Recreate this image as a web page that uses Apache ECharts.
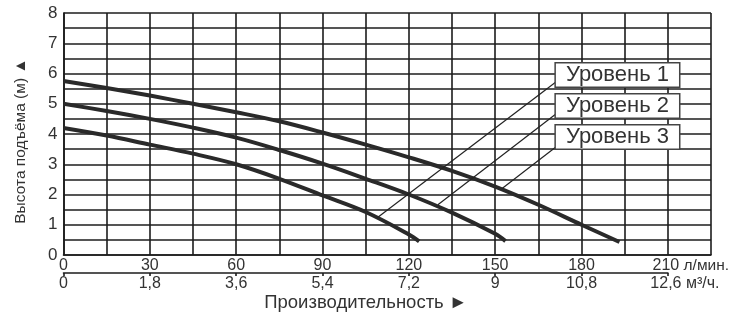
<!DOCTYPE html>
<html>
<head>
<meta charset="utf-8">
<script src="https://cdn.jsdelivr.net/npm/echarts@6/dist/echarts.min.js"></script>
<style>html,body{margin:0;padding:0;background:#fff}#c{width:747px;height:314px}</style>
</head>
<body>
<div id="c"></div>
<script>
// Flow axis (l/min) tick labels, every 30 l/min
const lpmLabels = ['0', '30', '60', '90', '120', '150', '180', '210'];
// Flow axis (m³/h) tick labels
const m3hLabels = ['0', '1,8', '3,6', '5,4', '7,2', '9', '10,8', '12,6'];
// Head axis labels
const headLabels = ['0', '1', '2', '3', '4', '5', '6', '7', '8'];

// Curves: [flow l/min, head m]
const level1 = [[0, 4.2], [15, 3.95], [30, 3.65], [45, 3.35], [60, 3.0], [75, 2.52], [90, 1.97], [105, 1.42], [120, 0.68], [123.6, 0.45]];
const level2 = [[0, 5.0], [15, 4.76], [30, 4.5], [45, 4.21], [60, 3.88], [75, 3.47], [90, 3.02], [105, 2.52], [120, 2.0], [135, 1.4], [150, 0.7], [153.6, 0.46]];
const level3 = [[0, 5.75], [15, 5.52], [30, 5.27], [45, 5.0], [60, 4.72], [75, 4.42], [90, 4.05], [105, 3.65], [120, 3.23], [135, 2.78], [150, 2.26], [165, 1.66], [180, 1.0], [193.2, 0.43]];

// Leader lines from curve to label box: [start, end]
const leader1 = [[108.9, 1.22], [171.1, 5.72]];
const leader2 = [[130.1, 1.66], [171.1, 4.66]];
const leader3 = [[152.4, 2.2], [171.1, 3.57]];
const levelNames = ['Уровень 1', 'Уровень 2', 'Уровень 3'];

const FONT = "'Liberation Sans', Arial, sans-serif";
const INK = '#1c1c1c';
const gridStyle = { color: INK, width: 1.6 };

function curve(data) {
  return {
    type: 'line', data: data, xAxisIndex: 0, yAxisIndex: 0,
    smooth: 0.35, symbol: 'none', silent: true,
    lineStyle: { color: '#2a2a2a', width: 4, cap: 'butt' }, z: 5
  };
}
function leader(data, name, dy) {
  return {
    type: 'line', name: name, data: data, xAxisIndex: 0, yAxisIndex: 0,
    symbol: 'none', silent: true,
    lineStyle: { color: '#222', width: 1.2 }, z: 6,
    endLabel: {
      show: true, formatter: name, distance: 0, offset: [0, dy],
      fontFamily: FONT, fontSize: 22, color: '#333',
      backgroundColor: '#fff', borderColor: '#444', borderWidth: 1.5,
      padding: [1, 10, 0, 10], lineHeight: 22
    }
  };
}

const chart = echarts.init(document.getElementById('c'), null, { renderer: 'canvas' });
chart.setOption({
  animation: false,
  backgroundColor: '#fff',
  grid: [
    { left: 63.5, right: 36, top: 13, bottom: 59 },
    { left: 63.5, width: 604.4, top: 272, height: 1 }
  ],
  graphic: [{
    type: 'text', x: 21, y: 141, rotation: Math.PI / 2,
    style: {
      text: 'Высота подъёма (м) ▲', align: 'center', verticalAlign: 'middle',
      fontFamily: FONT, fontSize: 15.5, fill: '#333'
    }
  }],
  xAxis: [
    {
      type: 'value', gridIndex: 0, min: 0, max: 225, interval: 15,
      axisLine: { show: true, lineStyle: gridStyle },
      axisTick: { show: false },
      splitLine: { show: true, lineStyle: gridStyle },
      axisLabel: {
        margin: 3, fontFamily: FONT, fontSize: 16, color: '#333',
        formatter: function (v, i) {
          if (i % 2 !== 0) return '';
          const t = lpmLabels[i / 2];
          if (t === undefined) return '';
          if (i / 2 === lpmLabels.length - 1) return '{a|' + t + '}{u| л/мин.}';
          return t;
        },
        rich: {
          a: { fontFamily: FONT, fontSize: 16, color: '#333', padding: [0, 0, 0, 46] },
          u: { fontFamily: FONT, fontSize: 15.5, color: '#333' }
        }
      }
    },
    {
      type: 'value', gridIndex: 1, min: 0, max: 12.6, interval: 1.8,
      position: 'bottom',
      axisLine: { show: true, lineStyle: { color: INK, width: 1.6 } },
      axisTick: { show: true, length: 3, lineStyle: { color: INK, width: 1.6 } },
      splitLine: { show: false },
      axisLabel: {
        margin: 3, fontFamily: FONT, fontSize: 16, color: '#333',
        formatter: function (v, i) {
          const t = m3hLabels[i];
          if (t === undefined) return '';
          if (i === m3hLabels.length - 1) return '{a|' + t + '}{u| м³/ч.}';
          return t;
        },
        rich: {
          a: { fontFamily: FONT, fontSize: 16, color: '#333', padding: [0, 0, 0, 34] },
          u: { fontFamily: FONT, fontSize: 16, color: '#333' }
        }
      },
      name: 'Производительность ►', nameLocation: 'middle', nameGap: 20,
      nameTextStyle: { fontFamily: FONT, fontSize: 18.5, color: '#333' }
    }
  ],
  yAxis: [
    {
      type: 'value', gridIndex: 0, min: 0, max: 8, interval: 0.5,
      axisLine: { show: true, lineStyle: gridStyle },
      axisTick: { show: false },
      splitLine: { show: true, lineStyle: gridStyle },
      axisLabel: {
        margin: 6, fontFamily: FONT, fontSize: 17, color: '#333',
        formatter: function (v, i) {
          return i % 2 === 0 ? (headLabels[i / 2] || '') : '';
        }
      }
    },
    { type: 'value', gridIndex: 1, min: 0, max: 1, show: false }
  ],
  series: [
    curve(level1), curve(level2), curve(level3),
    leader(leader1, levelNames[0], -7),
    leader(leader2, levelNames[1], -8),
    leader(leader3, levelNames[2], -10)
  ]
});
</script>
</body>
</html>
